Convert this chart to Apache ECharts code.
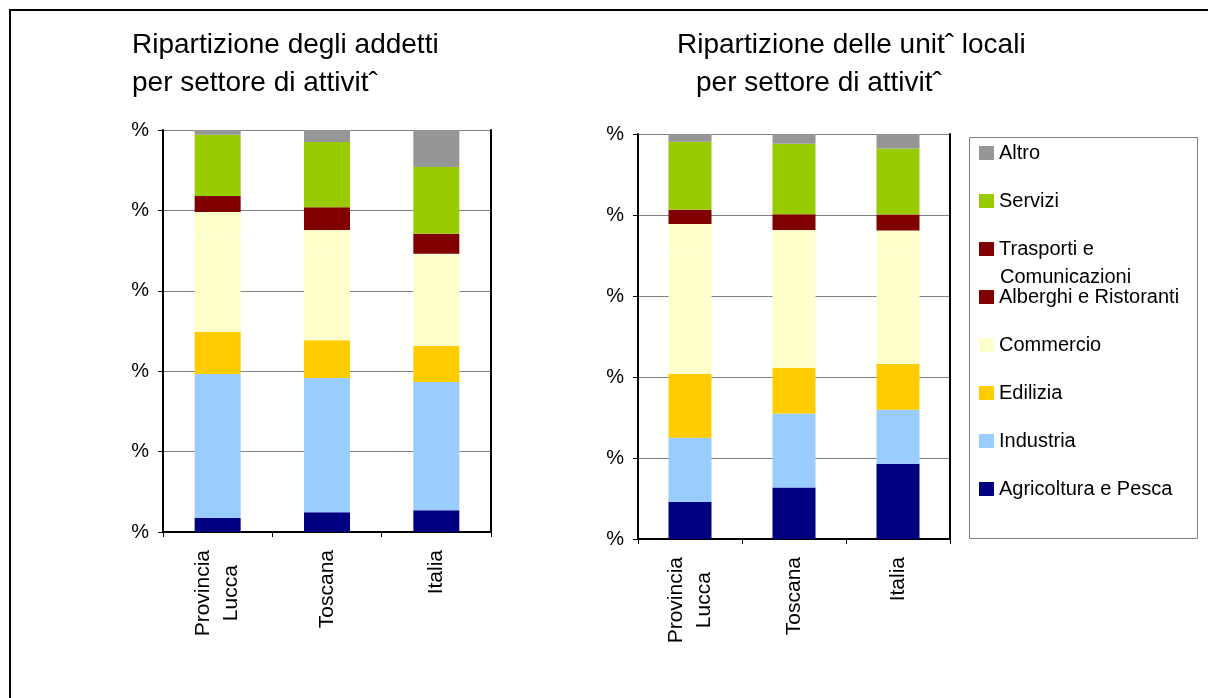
<!DOCTYPE html>
<html>
<head>
<meta charset="utf-8">
<script src="https://cdn.jsdelivr.net/npm/echarts@6/dist/echarts.min.js"></script>
<style>
html, body { margin: 0; padding: 0; background: #fff; }
#grafico { width: 1208px; height: 698px; }
</style>
</head>
<body>
<div id="grafico"></div>
<script>
// categorie e settori
var categorie = ['Provincia Lucca', 'Toscana', 'Italia'];
var settori = ['Agricoltura e Pesca', 'Industria', 'Edilizia', 'Commercio',
    'Alberghi e Ristoranti', 'Trasporti e Comunicazioni', 'Servizi', 'Altro'];
var ordineLegenda = ['Altro', 'Servizi', 'Trasporti e Comunicazioni', 'Alberghi e Ristoranti',
    'Commercio', 'Edilizia', 'Industria', 'Agricoltura e Pesca'];
var yLabels = ['%', '%', '%', '%', '%', '%'];

// ripartizione degli addetti (%)
var addAgricoltura = [3.5, 4.9, 5.4];
var addIndustria   = [35.8, 33.4, 31.9];
var addEdilizia    = [10.5, 9.4, 9.0];
var addCommercio   = [23.2, 22.0, 18.9];
var addAlberghi    = [6.6, 5.4, 4.0];
var addTrasporti   = [4.0, 5.7, 5.0];
var addServizi     = [15.2, 16.2, 16.6];
var addAltro       = [1.2, 3.0, 9.2];

// ripartizione delle unita' locali (%)
var uniAgricoltura = [9.2, 12.7, 18.6];
var uniIndustria   = [15.8, 18.3, 13.3];
var uniEdilizia    = [15.8, 11.3, 11.3];
var uniCommercio   = [30.2, 28.1, 27.7];
var uniAlberghi    = [6.8, 5.9, 5.3];
var uniTrasporti   = [3.5, 3.9, 3.9];
var uniServizi     = [16.8, 17.4, 16.3];
var uniAltro       = [1.9, 2.4, 3.6];

var addetti = [addAgricoltura, addIndustria, addEdilizia, addCommercio, addAlberghi, addTrasporti, addServizi, addAltro];
var unita = [uniAgricoltura, uniIndustria, uniEdilizia, uniCommercio, uniAlberghi, uniTrasporti, uniServizi, uniAltro];

// colori delle barre (alberghi disegnato chiaro come nel grafico originale)
var colori = ['#000080', '#99CCFF', '#FFCC00', '#FFFFCC', '#FFFFCC', '#800000', '#99CC00', '#969696'];
var coloriLegenda = {'Alberghi e Ristoranti': '#800000'};

var font = 'Liberation Sans, Arial, sans-serif';
var myChart = echarts.init(document.getElementById('grafico'));

function asseX(idx){
    return {
        type: 'category', gridIndex: idx, data: categorie,
        axisLine: {lineStyle: {color: '#000', width: 2}},
        axisTick: {show: true, length: 5, lineStyle: {color: '#000', width: 1}},
        axisLabel: {
            rotate: 90, margin: 18, color: '#000', fontFamily: font, fontSize: 21,
            formatter: function(v){
                return v === 'Provincia Lucca' ? '{c|Provincia}\n{c|Lucca}' : '{c|' + v + '}';
            },
            rich: {c: {align: 'center', fontSize: 21, lineHeight: 28, fontFamily: font, color: '#000'}}
        }
    };
}
function asseY(idx){
    return {
        type: 'value', gridIndex: idx, min: 0, max: 100, interval: 20,
        axisLine: {show: true, lineStyle: {color: '#000', width: 2}},
        axisTick: {show: true, length: 5, lineStyle: {color: '#000'}},
        splitLine: {lineStyle: {color: '#808080', width: 1}},
        axisLabel: {margin: 14, color: '#000', fontFamily: font, fontSize: 20,
            formatter: function(v){ return yLabels[v / 20]; }}
    };
}
function bordoDestro(idx){
    return {
        type: 'value', gridIndex: idx, position: 'right', min: 0, max: 100, interval: 20,
        axisLine: {show: true, lineStyle: {color: '#000', width: 2}},
        axisTick: {show: false}, axisLabel: {show: false}, splitLine: {show: false}
    };
}
function serie(valori, idx, larghezza){
    var out = [];
    for (var i = 0; i < settori.length; i++){
        out.push({
            name: settori[i], type: 'bar', stack: 'g' + idx,
            xAxisIndex: idx, yAxisIndex: idx * 2,
            barWidth: larghezza, data: valori[i],
            itemStyle: {color: colori[i]},
            emphasis: {disabled: true}
        });
    }
    return out;
}

var legendData = [];
for (var k = 0; k < ordineLegenda.length; k++){
    var n = ordineLegenda[k];
    legendData.push(coloriLegenda[n] ? {name: n, itemStyle: {color: coloriLegenda[n]}} : {name: n});
}

option = {
    animation: false,
    grid: [
        {left: 163, top: 130, width: 328, height: 402},
        {left: 638, top: 134, width: 312, height: 405}
    ],
    xAxis: [asseX(0), asseX(1)],
    yAxis: [asseY(0), bordoDestro(0), asseY(1), bordoDestro(1)],
    legend: {
        orient: 'vertical', left: 979, top: 143, padding: 0,
        itemWidth: 15, itemHeight: 14, itemGap: 28, icon: 'rect',
        selectedMode: false,
        textStyle: {fontFamily: font, fontSize: 20, lineHeight: 20, color: '#000'},
        formatter: function(name){ return name === 'Trasporti e Comunicazioni' ? 'Trasporti e' : name; },
        data: legendData
    },
    graphic: [
        {type: 'rect', shape: {x: 10, y: 10, width: 1400, height: 1000}, style: {fill: 'none', stroke: '#000', lineWidth: 2}, silent: true},
        {type: 'rect', shape: {x: 969.5, y: 137.5, width: 228, height: 401}, style: {fill: 'none', stroke: '#808080', lineWidth: 1}, silent: true},
        {type: 'text', x: 1000, y: 277, style: {text: 'Comunicazioni', font: '20px ' + font, fill: '#000', verticalAlign: 'middle'}},
        {type: 'text', x: 132, y: 45, style: {text: 'Ripartizione degli addetti', font: '28px ' + font, fill: '#000', verticalAlign: 'middle'}},
        {type: 'text', x: 132, y: 83, style: {text: 'per settore di attivitˆ', font: '28px ' + font, fill: '#000', verticalAlign: 'middle'}},
        {type: 'text', x: 677, y: 45, style: {text: 'Ripartizione delle unitˆ locali', font: '28px ' + font, fill: '#000', verticalAlign: 'middle'}},
        {type: 'text', x: 696, y: 83, style: {text: 'per settore di attivitˆ', font: '28px ' + font, fill: '#000', verticalAlign: 'middle'}}
    ],
    series: serie(addetti, 0, 46).concat(serie(unita, 1, 43))
};
myChart.setOption(option);
</script>
</body>
</html>
